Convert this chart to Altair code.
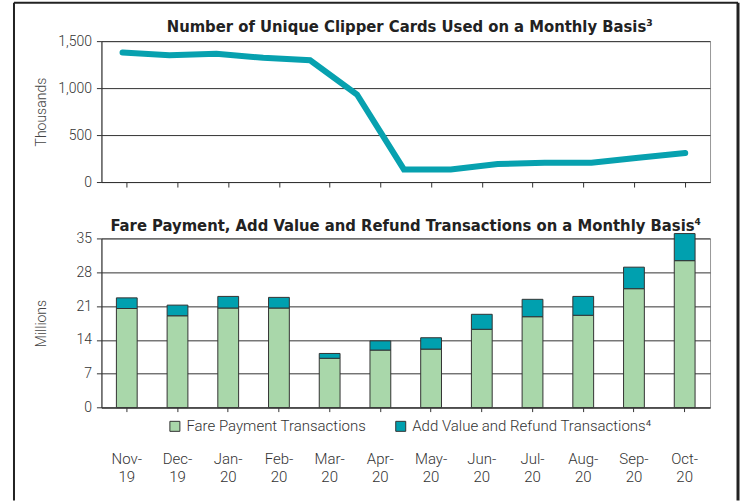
import altair as alt
import pandas as pd

# ---- data ----
months = ["Nov-19", "Dec-19", "Jan-20", "Feb-20", "Mar-20", "Apr-20",
          "May-20", "Jun-20", "Jul-20", "Aug-20", "Sep-20", "Oct-20"]

line_months = ["Oct-19", "Nov-19", "Dec-19", "Jan-20", "Feb-20", "Mar-20", "Apr-20",
               "May-20", "Jun-20", "Jul-20", "Aug-20", "Sep-20", "Oct-20"]
unique_cards = [1379, 1351, 1365, 1322, 1297, 932, 134, 134, 191, 205, 205, 259, 309]

fare_payment = [20.5, 19.0, 20.6, 20.6, 10.2, 11.9, 12.1, 16.2, 18.8, 19.1, 24.6, 30.4]
add_refund = [2.2, 2.2, 2.4, 2.2, 1.0, 1.9, 2.35, 3.1, 3.6, 3.9, 4.45, 5.6]

series_names = ["Fare Payment Transactions", "Add Value and Refund Transactions\u2074"]
series_colors = ["#A9D7AA", "#00A0AF"]

top_title = "Number of Unique Clipper Cards Used on a Monthly Basis\u00b3"
bottom_title = "Fare Payment,  Add Value and Refund Transactions on a Monthly Basis\u2074"

TITLE_FONT = "'Liberation Sans Narrow', 'DejaVu Sans Condensed', 'Arial Narrow', 'Roboto Condensed', sans-serif"
LABEL_FONT = "Roboto"

# ---- tables ----
month_df = pd.DataFrame({"month": months})
line_df = pd.DataFrame({"lm": line_months, "cards": unique_cards})
bar_rows = []
for i, m in enumerate(months):
    bar_rows.append({"month": m, "series": series_names[0], "value": fare_payment[i], "ord": 0})
    bar_rows.append({"month": m, "series": series_names[1], "value": add_refund[i], "ord": 1})
bar_df = pd.DataFrame(bar_rows)
one = pd.DataFrame({"a": [0]})

W = 609
H_TOP = 141
H_BOT = 169.3
GAP = 56.4

# ---- top chart ----
tick_layer = alt.Chart(month_df).mark_point(opacity=0).encode(
    x=alt.X("month:N", sort=months, title=None,
            scale=alt.Scale(paddingInner=0.5, paddingOuter=0.25),
            axis=alt.Axis(labels=False, ticks=True, tickSize=5, domain=True, grid=False))
)

line_layer = alt.Chart(line_df).mark_line(
    color="#07A1AF", strokeWidth=6, strokeCap="round"
).encode(
    x=alt.X("lm:N", sort=line_months, title=None,
            scale=alt.Scale(type="point", padding=0.49, align=0.46), axis=None),
    y=alt.Y("cards:Q", title="Thousands",
            scale=alt.Scale(domain=[0, 1500], nice=False),
            axis=alt.Axis(values=[0, 500, 1000, 1500], format=",d", grid=True,
                          tickSize=5, labelPadding=5, minExtent=49, maxExtent=49,
                          titlePadding=4))
)

top_title_mark = alt.Chart(one).mark_text(
    font=TITLE_FONT, fontWeight="bold", fontSize=16.5, color="#222",
    align="center", baseline="alphabetic"
).encode(x=alt.value(W / 2 + 4), y=alt.value(-9.3), text=alt.value(top_title))

top = alt.layer(tick_layer, line_layer, top_title_mark).resolve_scale(
    x="independent"
).properties(width=W, height=H_TOP)

# ---- bottom chart ----
bars = alt.Chart(bar_df).mark_bar(stroke="#333", strokeWidth=1).encode(
    x=alt.X("month:N", sort=months, title=None,
            scale=alt.Scale(paddingInner=0.59, paddingOuter=0.295),
            axis=alt.Axis(labelAngle=0, tickSize=4, labelPadding=40,
                          labelExpr="[slice(datum.label,0,4), slice(datum.label,4)]",
                          labelLineHeight=18, labelFontSize=15)),
    y=alt.Y("value:Q", stack="zero", title="Millions",
            scale=alt.Scale(domain=[0, 35], nice=False),
            axis=alt.Axis(values=[0, 7, 14, 21, 28, 35], grid=True, tickSize=5,
                          labelPadding=5, minExtent=49, maxExtent=49, titlePadding=4)),
    color=alt.Color("series:N", sort=series_names,
                    scale=alt.Scale(domain=series_names, range=series_colors),
                    legend=alt.Legend(title=None, orient="none", direction="horizontal",
                                      legendX=66, legendY=377.7, symbolType="square",
                                      symbolSize=100, symbolStrokeColor="#333",
                                      symbolStrokeWidth=1, labelFontSize=15,
                                      labelFont=LABEL_FONT, labelFontWeight=300,
                                      labelColor="#333", columnPadding=27,
                                      labelOffset=4, padding=0, labelLimit=0)),
    order=alt.Order("ord:Q"),
)

bottom_title_mark = alt.Chart(one).mark_text(
    font=TITLE_FONT, fontWeight="bold", fontSize=16.5, color="#222",
    align="center", baseline="alphabetic"
).encode(x=alt.value(W / 2), y=alt.value(-7.2), text=alt.value(bottom_title))

# decorative page frame (left, right, top edges)
FT = -(H_TOP + GAP + 39.3) + 1   # frame top relative to bottom plot
FB = 499 - (H_TOP + GAP + 39.3)  # frame bottom relative to bottom plot
frame_left = alt.Chart(one).mark_rule(color="#222", strokeWidth=2).encode(
    x=alt.value(-87.5), y=alt.value(FT), y2=alt.value(FB))
frame_right = alt.Chart(one).mark_rule(color="#222", strokeWidth=3).encode(
    x=alt.value(637), y=alt.value(FT), y2=alt.value(FB))
frame_top = alt.Chart(one).mark_rule(color="#222", strokeWidth=2).encode(
    x=alt.value(-87.5), x2=alt.value(637), y=alt.value(FT))

bottom = alt.layer(bars, bottom_title_mark, frame_left, frame_right, frame_top).properties(
    width=W, height=H_BOT)

chart = alt.vconcat(top, bottom, spacing=GAP, bounds="flush").properties(
    padding={"left": 12.5, "top": 0, "right": 11, "bottom": 0},
    background="white",
).configure_view(
    stroke="#999", strokeWidth=1
).configure_axis(
    domainColor="#333", gridColor="#333", tickColor="#333", gridWidth=1,
    labelColor="#333", titleColor="#444", labelFont=LABEL_FONT, labelFontWeight=300,
    labelFontSize=14, titleFont=LABEL_FONT, titleFontWeight=300, titleFontSize=14
)

chart.save("out.html", embed_options={"renderer": "svg", "actions": False})
